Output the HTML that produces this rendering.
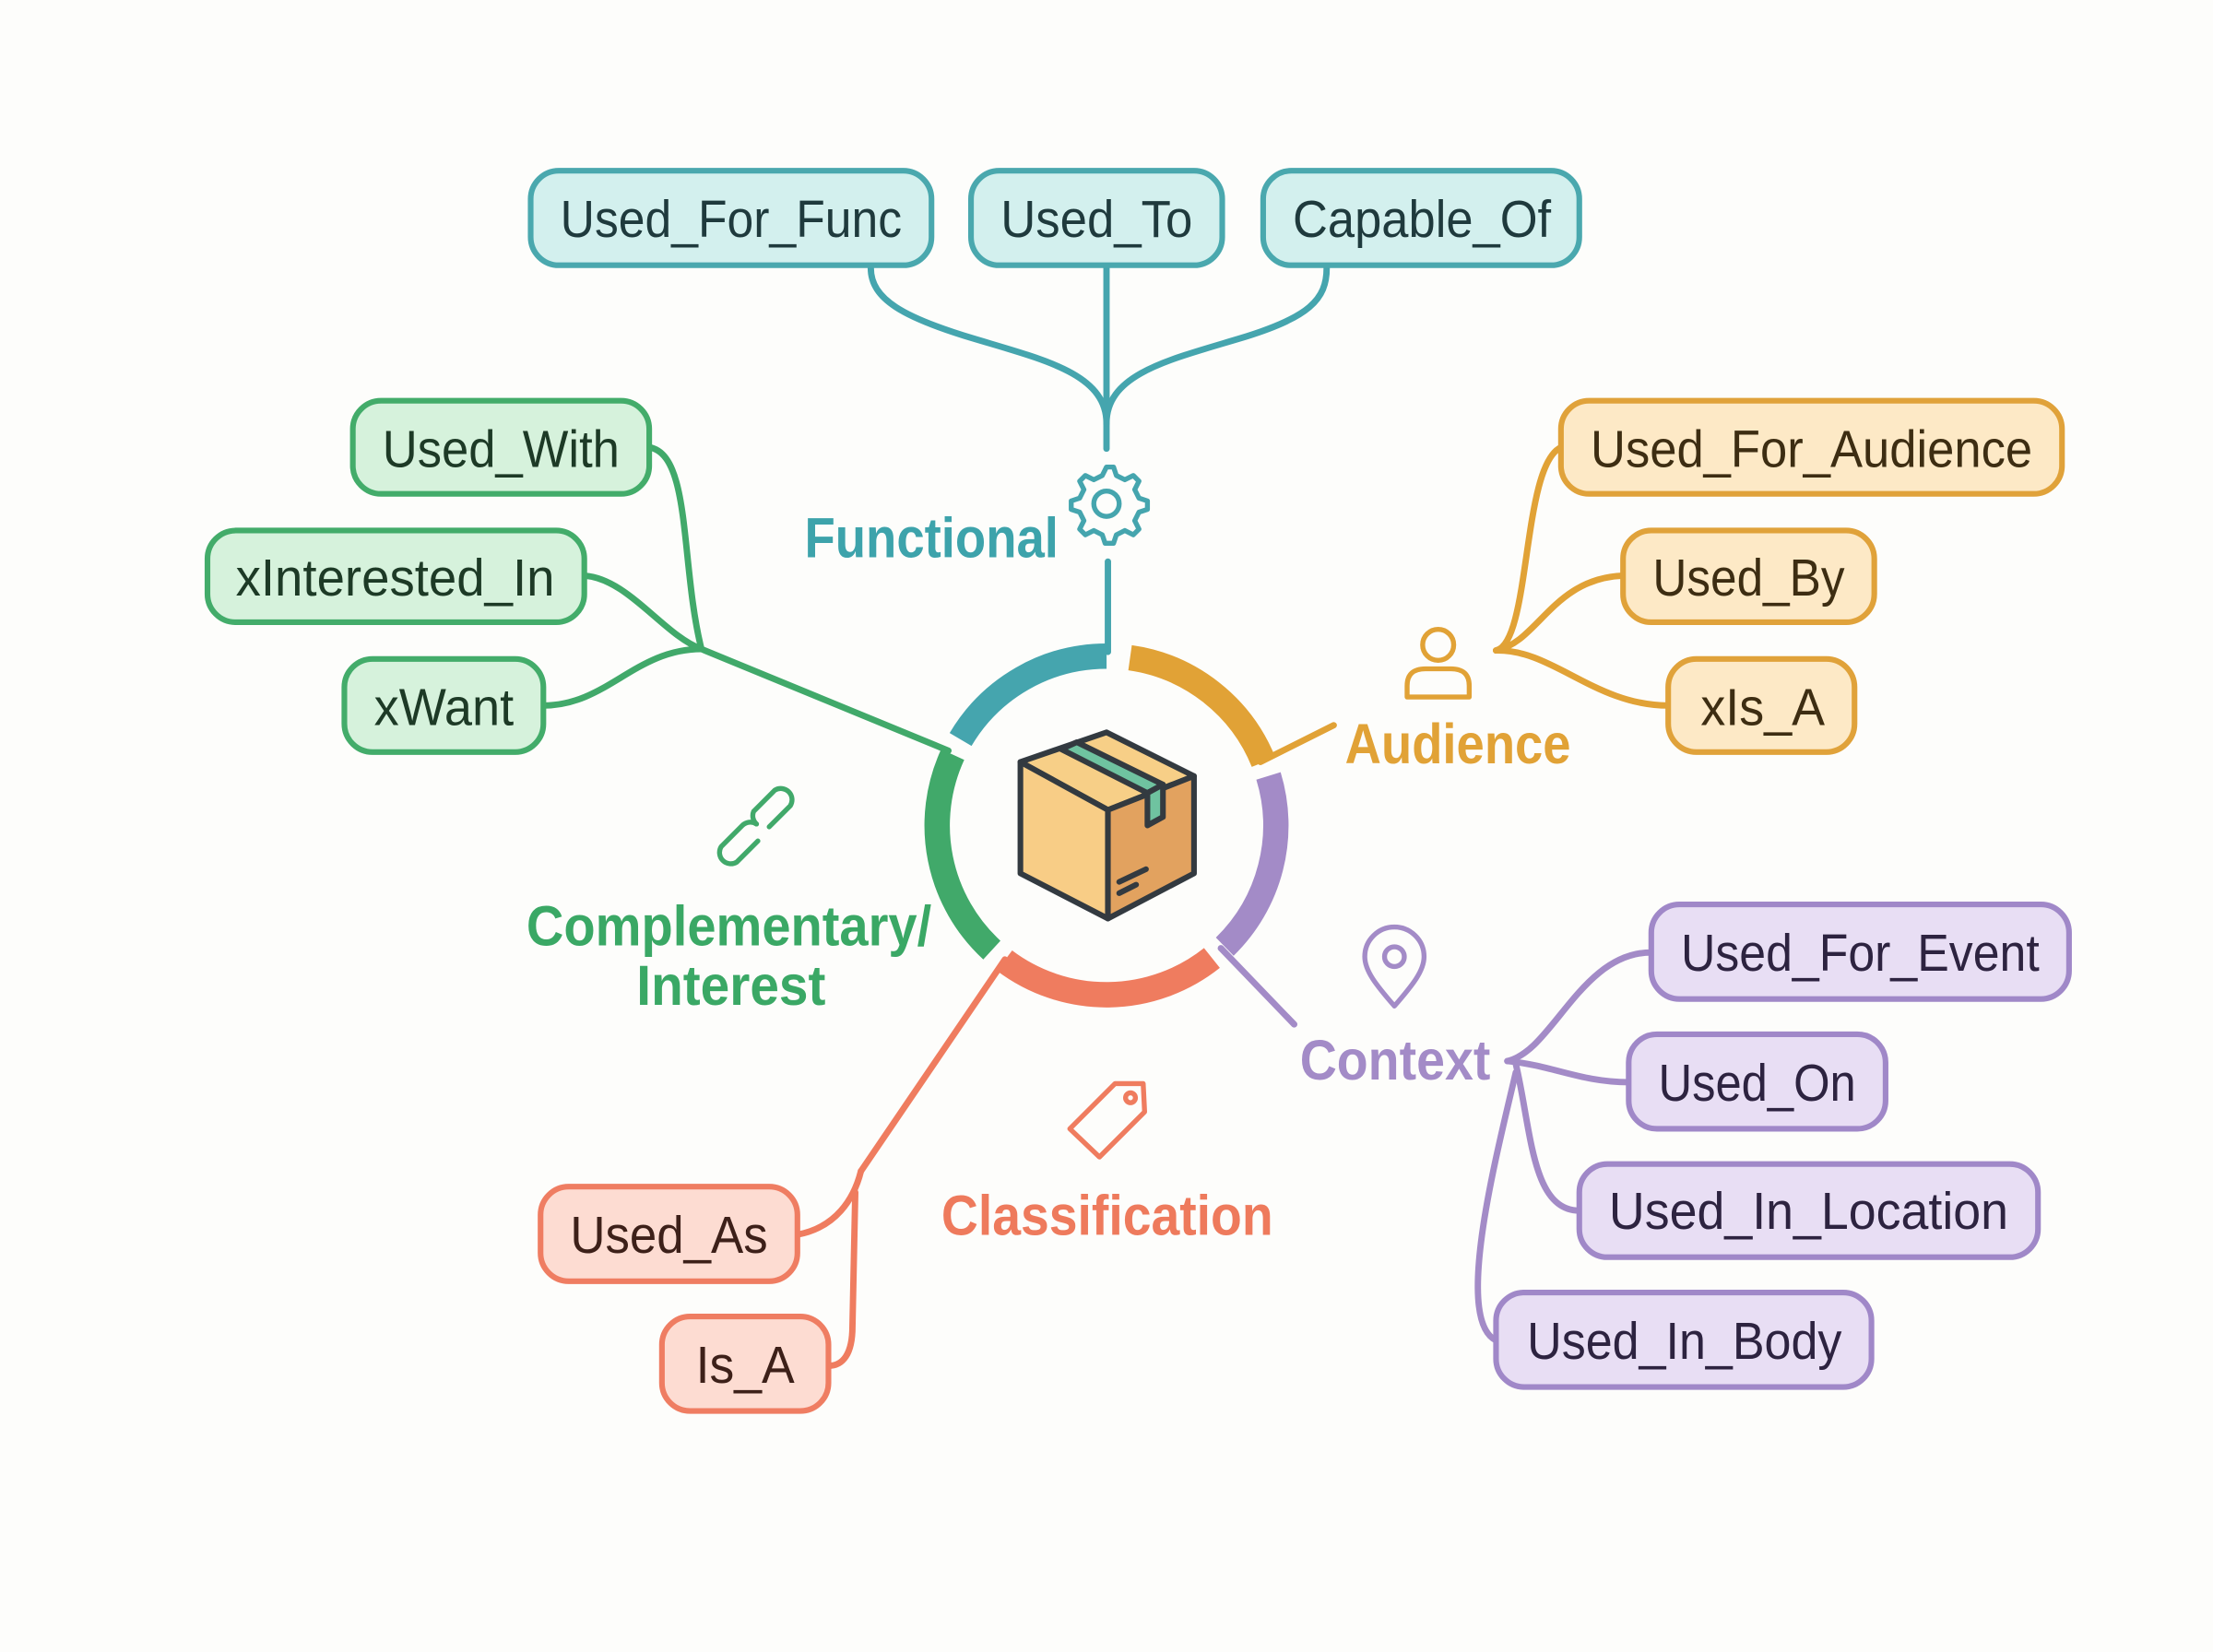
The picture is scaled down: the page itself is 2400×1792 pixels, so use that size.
<!DOCTYPE html>
<html><head><meta charset="utf-8"><style>html,body{margin:0;padding:0;background:#fdfdfb}svg{display:block}</style></head>
<body>
<svg width="2400" height="1792" viewBox="0 0 1568 1170.8" preserveAspectRatio="none" xmlns="http://www.w3.org/2000/svg">
<rect width="1568" height="1171" fill="#fdfdfb"/>
<g fill="none" stroke-width="18">
<circle cx="784" cy="585" r="120" stroke="#45a5ae" stroke-dasharray="124.6 1000" transform="rotate(210.5 784 585)"/>
<circle cx="784" cy="585" r="120" stroke="#e1a236" stroke-dasharray="125.7 1000" transform="rotate(278 784 585)"/>
<circle cx="784" cy="585" r="120" stroke="#a38bc7" stroke-dasharray="131.3 1000" transform="rotate(343 784 585)"/>
<circle cx="784" cy="585" r="120" stroke="#ef7c5f" stroke-dasharray="158.1 1000" transform="rotate(51.5 784 585)"/>
<circle cx="784" cy="585" r="120" stroke="#41a96a" stroke-dasharray="151 1000" transform="rotate(132.6 784 585)"/>
</g>
<!-- box icon -->
<g stroke="#333a40" stroke-width="4" stroke-linejoin="round">
<path d="M723,540 L784,519 L846,550 L785,574 Z" fill="#f7cf87"/>
<path d="M723,540 L785,574 L785,651 L723,619 Z" fill="#f8cd86"/>
<path d="M785,574 L846,550 L846,619 L785,651 Z" fill="#e2a25f"/>
<path d="M752,531 L813,562 L824,556 L763,526 Z" fill="#6fc3a0"/>
<path d="M813,562 L824,556 L824,579 L813,585 Z" fill="#6fc3a0"/>
<path d="M793,625 L812,616 M793,633 L805,627" fill="none" stroke-linecap="round"/>
</g>
<!-- connectors -->
<g fill="none" stroke-width="4.5" stroke-linecap="round">
<g stroke="#45a5ae">
<path d="M785,462 L785,398"/>
<path d="M784,318 L784,190"/>
<path d="M784,300 C784,265 740,255 690,240 C640,225 617,212 617,190"/>
<path d="M784,300 C784,265 828,255 878,240 C928,225 940,212 940,190"/>
</g>
<g stroke="#41a96a">
<path d="M672,532 L497,460"/>
<path d="M460,317 C490,322 482,400 497,460"/>
<path d="M414,408 C445,410 470,450 497,460"/>
<path d="M385,500 C430,500 450,460 497,460"/>
</g>
<g stroke="#e1a236">
<path d="M893,540 L945,514"/>
<path d="M1060,461 C1085,455 1078,330 1106,317"/>
<path d="M1150,408 C1100,410 1090,455 1060,461"/>
<path d="M1182,500 C1130,500 1100,460 1060,461"/>
</g>
<g stroke="#a38bc7">
<path d="M865,672 L917,726"/>
<path d="M1068,752 C1100,745 1120,675 1170,675"/>
<path d="M1068,752 C1100,755 1120,767 1154,767"/>
<path d="M1074,754 C1085,800 1085,858 1119,858"/>
<path d="M1074,760 C1060,820 1030,935 1060,950"/>
</g>
<g stroke="#ef7c5f">
<path d="M712,680 L610,830"/>
<path d="M565,875 C592,870 605,850 610,830"/>
<path d="M606,845 L604,940 C604,960 597,968 587,968"/>
</g>
</g>
<!-- icons -->
<g fill="none" stroke-width="3.5" stroke-linecap="round" stroke-linejoin="round">
<g stroke="#45a5ae">
<circle cx="784" cy="357" r="9"/>
<path d="M784,331 l5,0 2,6 6,3 6,-3 4,4 -3,6 3,6 6,2 0,6 -6,2 -3,6 3,6 -4,4 -6,-3 -6,3 -2,6 -6,0 -2,-6 -6,-3 -6,3 -4,-4 3,-6 -3,-6 -6,-2 0,-6 6,-2 3,-6 -3,-6 4,-4 6,3 6,-3 z"/>
</g>
<g stroke="#41a96a">
<path d="M545,586 l15,-15 a8,8 0 0 0 -11,-11 l-15,15 a8,8 0 0 0 2,9"/>
<path d="M537,596 l-15,15 a8,8 0 0 1 -11,-11 l15,-15 a8,8 0 0 1 10,-1"/>
</g>
<g stroke="#e1a236">
<circle cx="1019" cy="457" r="11"/>
<path d="M997,494 L997,486 Q997,474 1010,474 L1028,474 Q1041,474 1041,486 L1041,494 Z"/>
</g>
<g stroke="#a38bc7">
<path d="M988,713 C975,698 967,688 967,678 A21,21 0 0 1 1009,678 C1009,688 1001,698 988,713 Z"/>
<circle cx="988" cy="678" r="7"/>
</g>
<g stroke="#ef7c5f">
<path d="M758,800 L790,768 L810,768 L811,788 L779,820 Z"/>
<circle cx="801" cy="778" r="3.5"/>
</g>
</g>
<!-- category labels -->
<g font-family="'Liberation Sans Narrow','Liberation Sans',sans-serif" font-weight="bold" font-size="40">
<text x="570" y="395" fill="#3da3ab" textLength="180" lengthAdjust="spacingAndGlyphs">Functional</text>
<text x="953" y="541" fill="#e1a236" textLength="160" lengthAdjust="spacingAndGlyphs">Audience</text>
<text x="921" y="765" fill="#a38bc7" textLength="135" lengthAdjust="spacingAndGlyphs">Context</text>
<text x="667" y="875" fill="#ee7a5c" textLength="235" lengthAdjust="spacingAndGlyphs">Classification</text>
<text x="373" y="670" fill="#3aa865" textLength="287" lengthAdjust="spacingAndGlyphs">Complementary/</text>
<text x="451" y="712" fill="#3aa865" textLength="134" lengthAdjust="spacingAndGlyphs">Interest</text>
</g>
<!-- nodes -->
<g stroke-width="4" font-family="'Liberation Sans Narrow','Liberation Sans',sans-serif" font-size="37">
<g fill="#d3f0ee" stroke="#4aa8ae">
<rect x="376" y="121" width="284" height="67" rx="20"/>
<rect x="688" y="121" width="178" height="67" rx="20"/>
<rect x="895" y="121" width="224" height="67" rx="20"/>
</g>
<g fill="#1f3a3d" stroke="none">
<text x="397" y="168" textLength="242" lengthAdjust="spacingAndGlyphs">Used_For_Func</text>
<text x="709" y="168" textLength="136" lengthAdjust="spacingAndGlyphs">Used_To</text>
<text x="916" y="168" textLength="183" lengthAdjust="spacingAndGlyphs">Capable_Of</text>
</g>
<g fill="#d6f2dc" stroke="#43ac6a">
<rect x="250" y="284" width="210" height="66" rx="20"/>
<rect x="147" y="376" width="267" height="65" rx="20"/>
<rect x="244" y="467" width="141" height="66" rx="20"/>
</g>
<g fill="#1d3a26" stroke="none">
<text x="271" y="331" textLength="168" lengthAdjust="spacingAndGlyphs">Used_With</text>
<text x="167" y="422" textLength="226" lengthAdjust="spacingAndGlyphs">xInterested_In</text>
<text x="265" y="514" textLength="99" lengthAdjust="spacingAndGlyphs">xWant</text>
</g>
<g fill="#fde9c6" stroke="#e0a23a">
<rect x="1106" y="284" width="355" height="66" rx="20"/>
<rect x="1150" y="376" width="178" height="65" rx="20"/>
<rect x="1182" y="467" width="132" height="66" rx="20"/>
</g>
<g fill="#3d2d12" stroke="none">
<text x="1127" y="331" textLength="313" lengthAdjust="spacingAndGlyphs">Used_For_Audience</text>
<text x="1171" y="422" textLength="136" lengthAdjust="spacingAndGlyphs">Used_By</text>
<text x="1205" y="514" textLength="88" lengthAdjust="spacingAndGlyphs">xIs_A</text>
</g>
<g fill="#e8def4" stroke="#a088c8">
<rect x="1170" y="641" width="296" height="67" rx="20"/>
<rect x="1154" y="733" width="182" height="67" rx="20"/>
<rect x="1119" y="825" width="325" height="66" rx="20"/>
<rect x="1060" y="916" width="266" height="67" rx="20"/>
</g>
<g fill="#2d2340" stroke="none">
<text x="1191" y="688" textLength="254" lengthAdjust="spacingAndGlyphs">Used_For_Event</text>
<text x="1175" y="780" textLength="140" lengthAdjust="spacingAndGlyphs">Used_On</text>
<text x="1140" y="871" textLength="283" lengthAdjust="spacingAndGlyphs">Used_In_Location</text>
<text x="1082" y="963" textLength="223" lengthAdjust="spacingAndGlyphs">Used_In_Body</text>
</g>
<g fill="#fddcd2" stroke="#ef7d62">
<rect x="383" y="841" width="182" height="67" rx="20"/>
<rect x="469" y="933" width="118" height="67" rx="20"/>
</g>
<g fill="#3d2019" stroke="none">
<text x="404" y="888" textLength="140" lengthAdjust="spacingAndGlyphs">Used_As</text>
<text x="493" y="980" textLength="70" lengthAdjust="spacingAndGlyphs">Is_A</text>
</g>
</g>
</svg>
</body></html>
